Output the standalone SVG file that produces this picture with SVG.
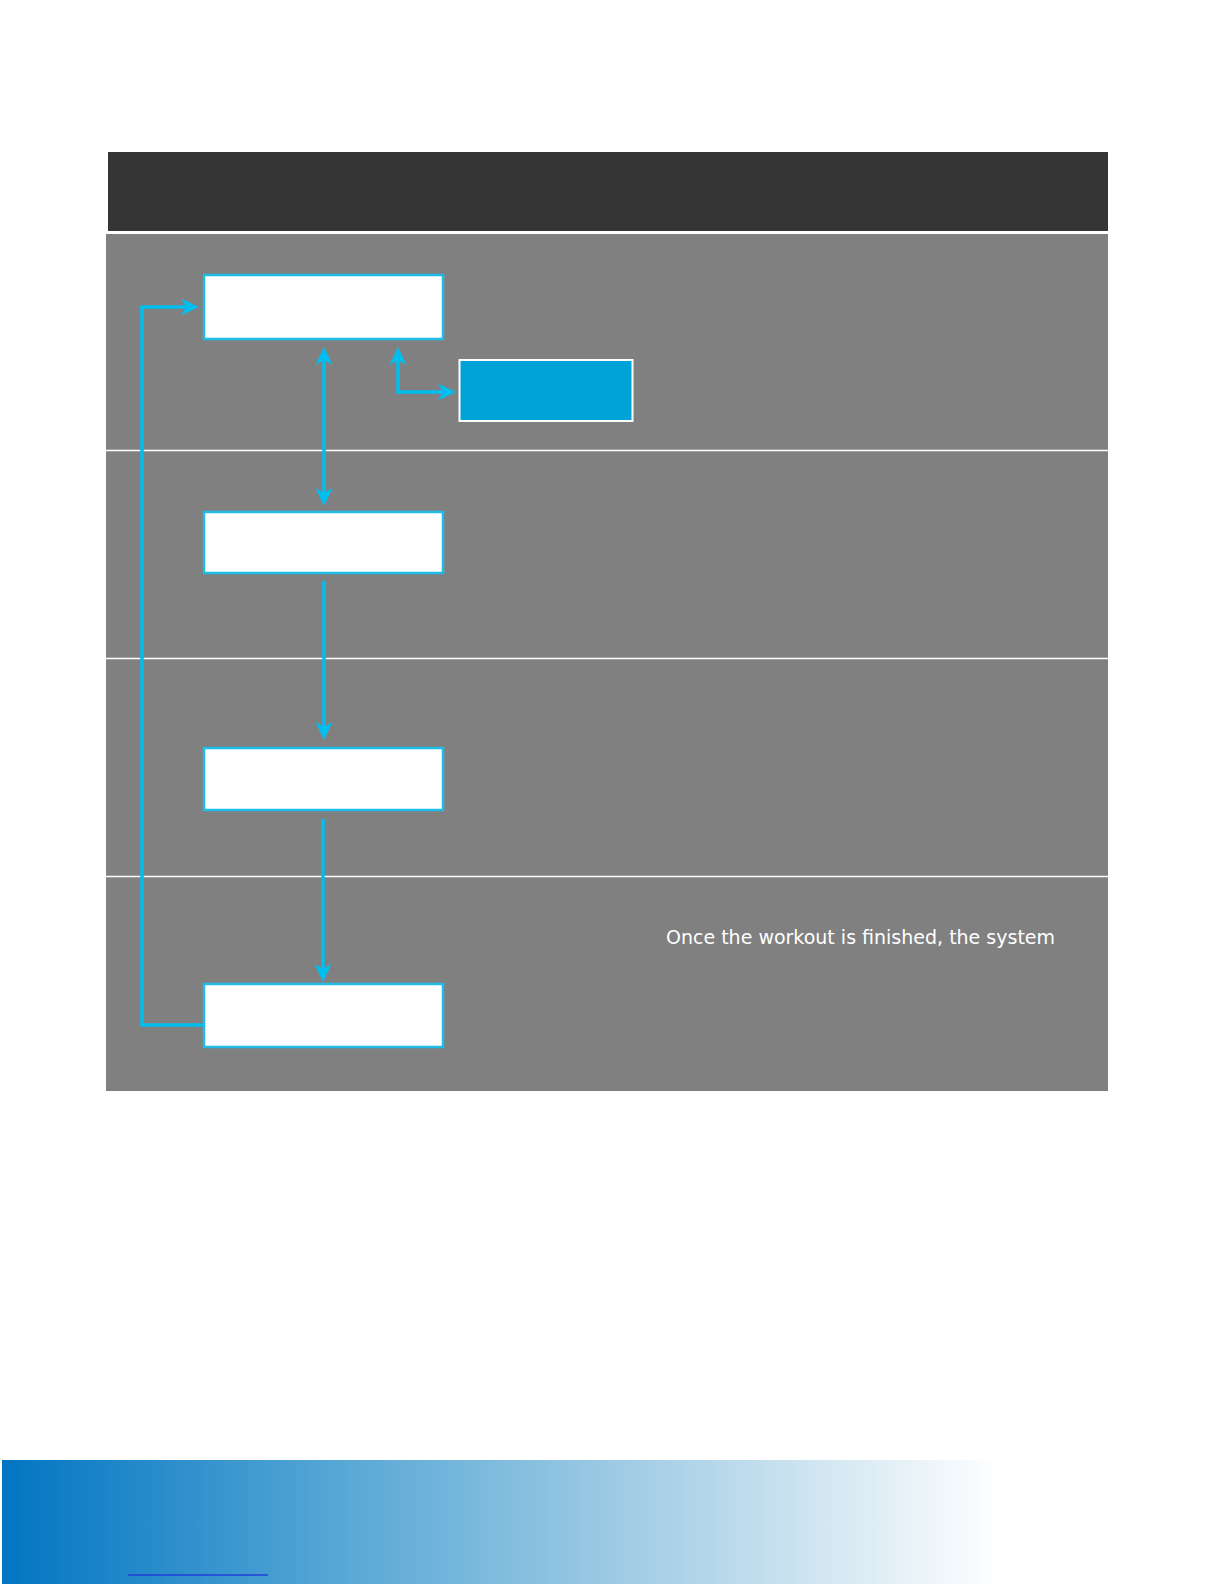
<svg xmlns="http://www.w3.org/2000/svg" width="1224" height="1584" viewBox="0 0 1224 1584">
<style>
.node{fill:#ffffff;stroke:#1ebde8;stroke-width:2.5}
.conn{fill:none;stroke:#00bff0;stroke-width:3.5}
.divider{stroke:#ffffff;stroke-width:1.5}
.label{font-family:"DejaVu Sans",sans-serif;font-size:19px;fill:#ffffff}
</style>
<defs>
<linearGradient id="band" x1="0" y1="0" x2="1" y2="0">
<stop offset="0" stop-color="#0275c2"/>
<stop offset="0.35" stop-color="#5aa9d6"/>
<stop offset="0.65" stop-color="#a7cfe6"/>
<stop offset="1" stop-color="#ffffff"/>
</linearGradient>
<path id="tri" d="M0,0 L-8.5,-18 L0,-13 L8.5,-18 Z" fill="#00bff0"/>
</defs>
<rect x="0" y="0" width="1224" height="1584" fill="#ffffff"/>
<rect x="108" y="152" width="1000" height="79" fill="#353535"/>
<rect x="106" y="234" width="1002" height="857" fill="#808080"/>
<line class="divider" x1="106" y1="450.5" x2="1108" y2="450.5"/>
<line class="divider" x1="106" y1="658.5" x2="1108" y2="658.5"/>
<line class="divider" x1="106" y1="876.5" x2="1108" y2="876.5"/>
<g id="connectors">
<polyline class="conn" points="204,1025 142,1025 142,307 188,307"/>
<use href="#tri" transform="translate(199,307) rotate(-90)"/>
<line class="conn" x1="324" y1="358" x2="324" y2="496"/>
<use href="#tri" transform="translate(324,347) rotate(180)"/>
<use href="#tri" transform="translate(324,506)"/>
<polyline class="conn" points="398,357 398,392 445,392"/>
<use href="#tri" transform="translate(398,347) rotate(180)"/>
<use href="#tri" transform="translate(456,392) rotate(-90)"/>
<line class="conn" x1="324" y1="581" x2="324" y2="729"/>
<use href="#tri" transform="translate(324,740)"/>
<line class="conn" x1="323" y1="819" x2="323" y2="971"/>
<use href="#tri" transform="translate(323,982)"/>
</g>
<g id="node1"><rect class="node" x="204" y="275" width="239" height="64"/></g>
<g id="node-side"><rect x="459.5" y="360" width="173" height="61" fill="#00a3d8" stroke="#ffffff" stroke-width="2"/></g>
<g id="node2"><rect class="node" x="204" y="512" width="239" height="61"/></g>
<g id="node3"><rect class="node" x="204" y="748" width="239" height="62"/></g>
<g id="node4"><rect class="node" x="204" y="984" width="239" height="63"/></g>
<text class="label" x="666" y="944">Once the workout is finished, the system</text>
<rect x="2" y="1460" width="1000" height="124" fill="url(#band)"/>
<line x1="128" y1="1575" x2="268" y2="1575" stroke="#1f3fd8" stroke-width="1.5"/>
</svg>
